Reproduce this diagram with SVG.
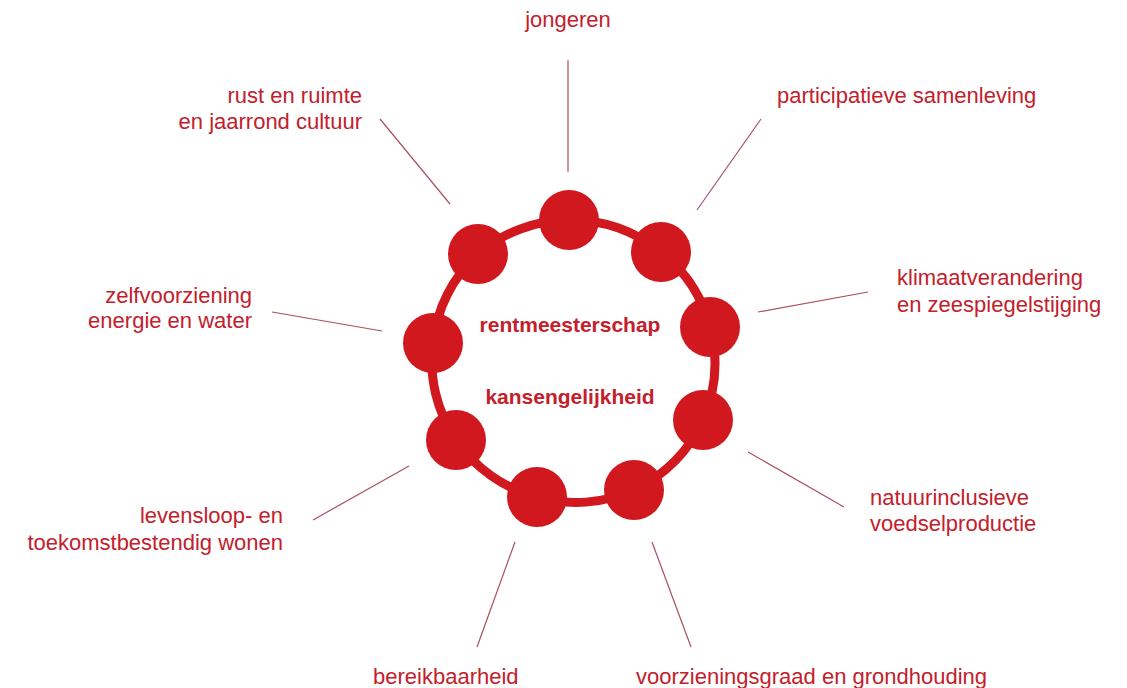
<svg xmlns="http://www.w3.org/2000/svg" width="1127" height="688" viewBox="0 0 1127 688">
<style>
.lbl{font-family:"Liberation Sans",Arial,sans-serif;font-size:22px;fill:#c3202c}
.ctr{font-family:"Liberation Sans",Arial,sans-serif;font-size:21px;font-weight:bold;fill:#c3202c;text-anchor:middle}
.end{text-anchor:end}
.mid{text-anchor:middle}
.con{stroke:#a9505c;stroke-width:1.2;fill:none}
.dot{fill:#d0181e}
.ring{stroke:#d0181e;stroke-width:9;fill:none}
</style>
<rect width="1127" height="688" fill="#ffffff"/>
<g id="connectors">
<line class="con" x1="568" y1="60" x2="568" y2="172"/>
<line class="con" x1="761" y1="119" x2="697" y2="210"/>
<line class="con" x1="868" y1="292" x2="758" y2="312"/>
<line class="con" x1="748" y1="452" x2="844" y2="507"/>
<line class="con" x1="652" y1="542" x2="691" y2="647"/>
<line class="con" x1="515" y1="542" x2="477" y2="647"/>
<line class="con" x1="409" y1="466" x2="313" y2="520"/>
<line class="con" x1="272" y1="312" x2="382" y2="331"/>
<line class="con" x1="380" y1="119" x2="450" y2="204"/>
</g>
<g id="ring">
<path class="ring" d="M569,220 A141,141 0 0 1 661,252 A141,141 0 0 1 710,327 A141,141 0 0 1 703,420 A141,141 0 0 1 634,490 A141,141 0 0 1 537,497 A141,141 0 0 1 456,440 A141,141 0 0 1 433,343 A141,141 0 0 1 478,254 A141,141 0 0 1 569,220 Z"/>
<circle class="dot" cx="569" cy="220" r="30"/>
<circle class="dot" cx="661" cy="252" r="30"/>
<circle class="dot" cx="710" cy="327" r="30"/>
<circle class="dot" cx="703" cy="420" r="30"/>
<circle class="dot" cx="634" cy="490" r="30"/>
<circle class="dot" cx="537" cy="497" r="30"/>
<circle class="dot" cx="456" cy="440" r="30"/>
<circle class="dot" cx="433" cy="343" r="30"/>
<circle class="dot" cx="478" cy="254" r="30"/>
</g>
<g id="center">
<text class="ctr" x="570" y="332">rentmeesterschap</text>
<text class="ctr" x="570" y="404">kansengelijkheid</text>
</g>
<g id="n-jongeren"><text class="lbl mid" x="568" y="27">jongeren</text></g>
<g id="n-participatieve"><text class="lbl" x="777" y="103">participatieve samenleving</text></g>
<g id="n-klimaat"><text class="lbl" x="897" y="285">klimaatverandering</text><text class="lbl" x="897" y="312">en zeespiegelstijging</text></g>
<g id="n-natuur"><text class="lbl" x="870" y="505">natuurinclusieve</text><text class="lbl" x="870" y="531">voedselproductie</text></g>
<g id="n-voorziening"><text class="lbl" x="636" y="684">voorzieningsgraad en grondhouding</text></g>
<g id="n-bereikbaarheid"><text class="lbl" x="373" y="684">bereikbaarheid</text></g>
<g id="n-levensloop"><text class="lbl end" x="283" y="523">levensloop- en</text><text class="lbl end" x="283" y="550">toekomstbestendig wonen</text></g>
<g id="n-zelfvoorziening"><text class="lbl end" x="252" y="303">zelfvoorziening</text><text class="lbl end" x="252" y="328">energie en water</text></g>
<g id="n-rust"><text class="lbl end" x="362" y="103">rust en ruimte</text><text class="lbl end" x="362" y="129">en jaarrond cultuur</text></g>
</svg>
